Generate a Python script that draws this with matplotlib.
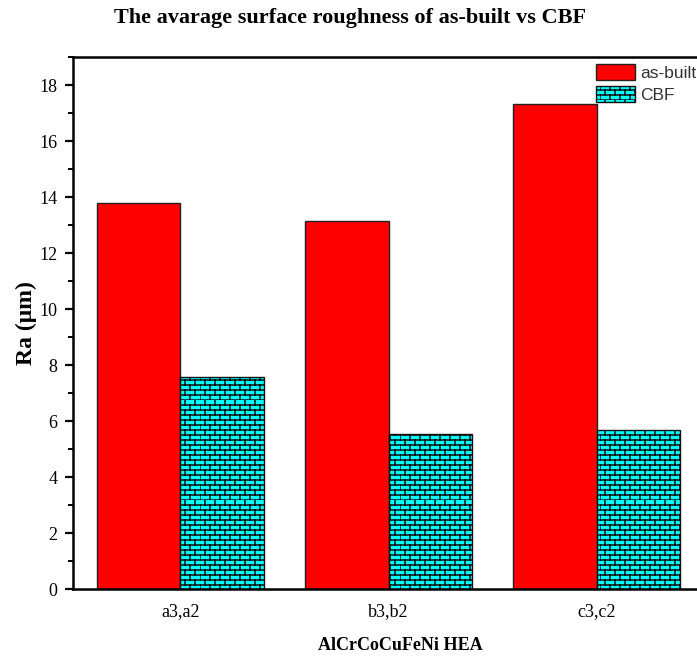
import warnings
import numpy as np
import matplotlib
matplotlib.use("Agg")
import matplotlib.pyplot as plt
import matplotlib.hatch as mhatch
from matplotlib.path import Path
from matplotlib.ticker import MultipleLocator

warnings.filterwarnings("ignore")

# --- data ---------------------------------------------------------------
categories = ["a3,a2", "b3,b2", "c3,c2"]
as_built = [13.78, 13.13, 17.32]
cbf = [7.58, 5.55, 5.67]
series_names = ["as-built", "CBF"]


# --- brick hatch pattern -------------------------------------------------
class BrickHatch(mhatch.HatchPatternBase):
    """Staggered brick pattern, selected with the 'b' hatch character."""

    def __init__(self, hatch, density):
        n = hatch.count("b")
        self.rows = 20 * n if n else 0
        self.cols = 10
        if self.rows:
            self.num_vertices = self.rows * 2 + self.rows * self.cols * 2
        else:
            self.num_vertices = 0

    def set_vertices_and_codes(self, vertices, codes):
        k = 0
        h = 1.0 / self.rows
        w = 1.0 / self.cols
        for i in range(self.rows):
            y0 = i * h
            vertices[k] = (0.0, y0)
            vertices[k + 1] = (1.0, y0)
            codes[k] = Path.MOVETO
            codes[k + 1] = Path.LINETO
            k += 2
            off = 0.5 * w if i % 2 else 0.0
            for j in range(self.cols):
                x = j * w + off
                vertices[k] = (x, y0)
                vertices[k + 1] = (x, y0 + h)
                codes[k] = Path.MOVETO
                codes[k + 1] = Path.LINETO
                k += 2


mhatch._hatch_types.append(BrickHatch)

plt.rcParams["hatch.linewidth"] = 1.1
serif = ["Liberation Serif", "DejaVu Serif"]

fig = plt.figure(figsize=(6.97, 6.59), dpi=100)
ax = fig.add_axes([73 / 697, 70 / 659, 631 / 697, 532 / 659])

x = np.arange(len(categories))
width = 0.4
ax.bar(x - width / 2, as_built, width, color="#ff0000", edgecolor="#222222",
       linewidth=1.0, label=series_names[0])
ax.bar(x + width / 2, cbf, width, color="#00ffff", edgecolor="#111111",
       linewidth=1.0, hatch="b", label=series_names[1])

ax.set_xlim(-0.515, 2.515)
ax.set_ylim(0, 19)
ax.set_xticks(x)
ax.set_xticklabels(categories, fontfamily=serif, fontsize=13)
ax.yaxis.set_major_locator(MultipleLocator(2))
ax.yaxis.set_minor_locator(MultipleLocator(1))
for lab in ax.get_yticklabels():
    lab.set_fontfamily(serif)
    lab.set_fontsize(13)

ax.tick_params(axis="x", length=0, pad=10)
ax.tick_params(axis="y", which="major", length=6, width=1.6, direction="out", pad=5)
ax.tick_params(axis="y", which="minor", length=3.5, width=1.4, direction="out")
for s in ax.spines.values():
    s.set_linewidth(1.8)

ax.set_ylabel("Ra (μm)", fontfamily=serif, fontsize=17, fontweight="bold", labelpad=2)
fig.text(400 / 697, 1 - 645 / 659, "AlCrCoCuFeNi HEA", ha="center", va="center",
         fontfamily=serif, fontsize=13, fontweight="bold")
fig.text(350 / 697, 1 - 18 / 659, "The avarage surface roughness of as-built vs CBF",
         ha="center", va="center", fontfamily=serif, fontsize=16, fontweight="bold")

leg = ax.legend(loc="upper left", bbox_to_anchor=(596 / 697, 1 - 64 / 659),
                bbox_transform=fig.transFigure, frameon=False,
                prop={"family": ["Liberation Sans", "DejaVu Sans"], "size": 12.5},
                handlelength=2.25, handleheight=1.05, handletextpad=0.3,
                labelspacing=0.3, borderpad=0, borderaxespad=0)
for t in leg.get_texts():
    t.set_color("#333333")

fig.savefig("out.png", dpi=100)
